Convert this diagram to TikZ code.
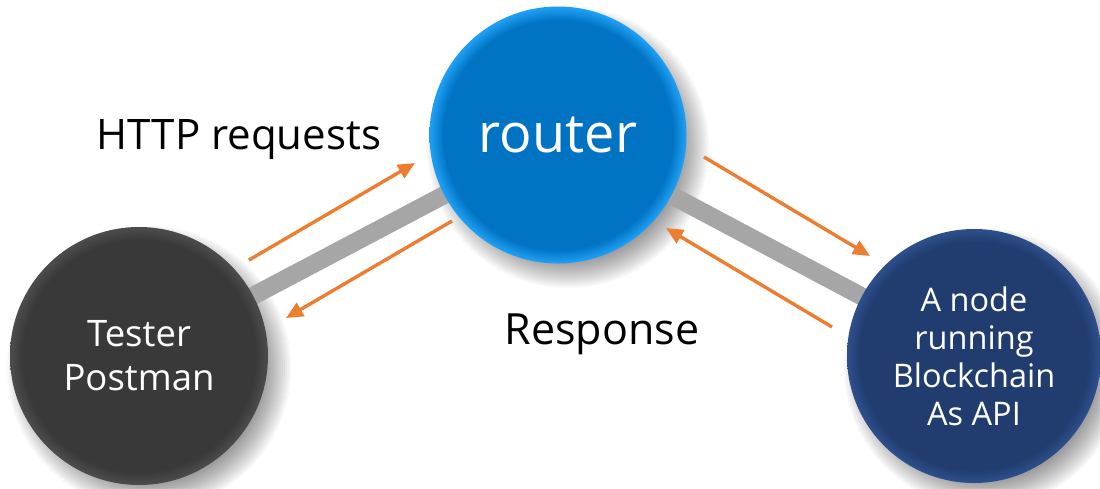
\documentclass[tikz,border=0pt]{standalone}
\usepackage{fontspec}
\setmainfont{Open Sans}
\usetikzlibrary{arrows.meta}
\definecolor{routerblue}{HTML}{0073C3}
\definecolor{routerrim}{HTML}{1E9EF2}
\definecolor{testergray}{HTML}{393939}
\definecolor{testerrim}{HTML}{4B4B4B}
\definecolor{chainblue}{HTML}{213D70}
\definecolor{chainrim}{HTML}{2D4E8A}
\definecolor{arroworange}{HTML}{ED7D31}
\definecolor{bargray}{HTML}{A6A6A6}
\pgfdeclareradialshading{routershade}{\pgfpointorigin}{color(0bp)=(routerblue); color(22.3bp)=(routerblue); color(24.8bp)=(routerrim); color(50bp)=(routerrim)}
\pgfdeclareradialshading{testershade}{\pgfpointorigin}{color(0bp)=(testergray); color(22.5bp)=(testergray); color(24.8bp)=(testerrim); color(50bp)=(testerrim)}
\pgfdeclareradialshading{chainshade}{\pgfpointorigin}{color(0bp)=(chainblue); color(22.5bp)=(chainblue); color(24.8bp)=(chainrim); color(50bp)=(chainrim)}
\tikzset{
  ball/.style={circle, inner sep=0pt, text=white, align=center},
  softshadow/.style={black, opacity=0.03},
  bar/.style={line width=18pt, bargray},
  flow/.style={arroworange, line width=3.4pt, -{Triangle[length=17pt,width=15pt]}},
  lbl/.style={inner sep=0pt, text=black}
}
\begin{document}
\begin{tikzpicture}[x=1pt,y=-1pt]
\useasboundingbox (0,0) rectangle (1100,488);
\fill[white] (0,0) rectangle (1100,488);
% centers
\coordinate (tc) at (139,356);
\coordinate (rc) at (558,135);
\coordinate (bc) at (974,356);
% soft shadows (offset down-right)
\foreach \k in {0,...,13}{
  \fill[softshadow] (tc) ++(10,12) circle ({142-2*\k});
  \fill[softshadow] (rc) ++(10,12) circle ({141-2*\k});
  \fill[softshadow] (bc) ++(10,12) circle ({140-2*\k});
}
% bars
\draw[bar] (tc) -- (rc);
\draw[bar] (rc) -- (bc);
% nodes
\node[ball, minimum size=258pt, shading=testershade, font=\fontsize{36.5}{44}\selectfont] (tester) at (tc) {Tester\\Postman};
\node[ball, minimum size=257pt, shading=routershade, font=\fontsize{54}{60}\selectfont] (router) at (rc) {router};
\node[ball, minimum size=254pt, shading=chainshade, font=\fontsize{32.5}{38}\selectfont] (chain) at (bc) {A node\\running\\Blockchain\\As API};
% labels
\node[lbl, font=\fontsize{42}{48}\selectfont] (http) at (239,140) {HTTP requests};
\node[lbl, font=\fontsize{43}{48}\selectfont] (resp) at (602,334) {Response};
% arrows
\coordinate (a1s) at (249,260); \coordinate (a1e) at (415,163);
\coordinate (a2s) at (452,221); \coordinate (a2e) at (286,318);
\coordinate (a3s) at (704,157); \coordinate (a3e) at (870,256);
\coordinate (a4s) at (832,327); \coordinate (a4e) at (666,228);
\draw[flow] (a1s) -- (a1e);
\draw[flow] (a2s) -- (a2e);
\draw[flow] (a3s) -- (a3e);
\draw[flow] (a4s) -- (a4e);
\end{tikzpicture}
\end{document}
